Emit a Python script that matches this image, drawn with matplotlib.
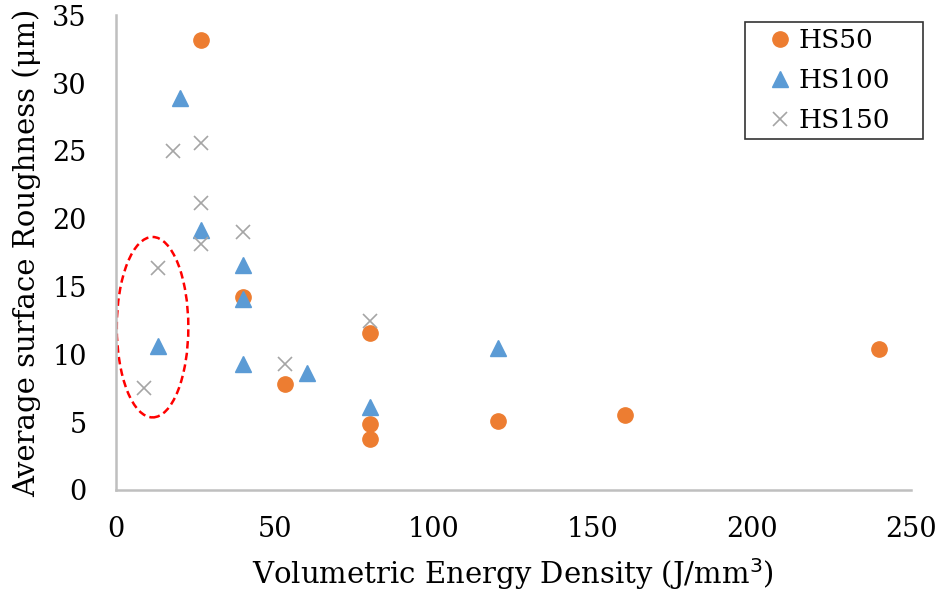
import matplotlib
matplotlib.use("Agg")
import matplotlib.pyplot as plt
from matplotlib.patches import Ellipse

# Volumetric energy density (J/mm^3) and average surface roughness (µm)
hs50_ved = [26.7, 40, 53.3, 80, 80, 80, 120, 160, 240]
hs50_ra = [33.2, 14.25, 7.8, 11.6, 4.9, 3.75, 5.1, 5.5, 10.4]

hs100_ved = [20, 26.7, 40, 40, 40, 13.3, 60, 80, 120]
hs100_ra = [28.9, 19.2, 16.55, 14.05, 9.3, 10.65, 8.65, 6.15, 10.5]

hs150_ved = [17.8, 26.7, 26.7, 26.7, 40, 13.3, 8.9, 53.3, 80]
hs150_ra = [25.0, 25.6, 21.15, 18.1, 19.05, 16.35, 7.55, 9.25, 12.45]

series_labels = ["HS50", "HS100", "HS150"]
x_ticks = [0, 50, 100, 150, 200, 250]
y_ticks = [0, 5, 10, 15, 20, 25, 30, 35]

plt.rcParams["font.family"] = ["DejaVu Serif"]

fig = plt.figure(figsize=(9.43, 5.95), dpi=100)
ax = fig.add_axes([0.123, 0.1765, 0.843, 0.798])

ax.plot(hs50_ved, hs50_ra, linestyle="none", marker="o", markersize=11,
        color="#ED7D31", label=series_labels[0])
ax.plot(hs100_ved, hs100_ra, linestyle="none", marker="^", markersize=11,
        color="#5B9BD5", label=series_labels[1])
ax.plot(hs150_ved, hs150_ra, linestyle="none", marker="x", markersize=10,
        markeredgewidth=1.2, color="#A5A5A5", label=series_labels[2])

# highlight of the low-energy group
ax.add_patch(Ellipse((11.5, 12.0), 22.5, 13.3, fill=False, edgecolor="#FF0000",
                     linewidth=1.8, linestyle=(0, (3, 1.7))))

ax.set_xlim(0, 250)
ax.set_ylim(0, 35)
ax.set_xticks(x_ticks)
ax.set_yticks(y_ticks)
ax.tick_params(length=0, labelsize=19.5, colors="#000000")
ax.tick_params(axis="y", pad=21)
ax.tick_params(axis="x", pad=19)

for side in ("top", "right"):
    ax.spines[side].set_visible(False)
for side in ("left", "bottom"):
    ax.spines[side].set_color("#BFBFBF")
    ax.spines[side].set_linewidth(1.8)

ax.set_xlabel("Volumetric Energy Density (J/mm$^{3}$)", fontsize=21, labelpad=9)
ax.set_ylabel("Average surface Roughness (μm)", fontsize=21, labelpad=8)

leg = ax.legend(loc="upper left", bbox_to_anchor=(0.791, 0.73, 0.224, 0.255),
                mode="expand", borderaxespad=0, fontsize=19,
                frameon=True, fancybox=False, edgecolor="#000000",
                borderpad=0.22, labelspacing=0.57,
                handlelength=2.2, handletextpad=-0.4)
leg.get_frame().set_linewidth(1.2)

fig.savefig("out.png", dpi=100, facecolor="white")
